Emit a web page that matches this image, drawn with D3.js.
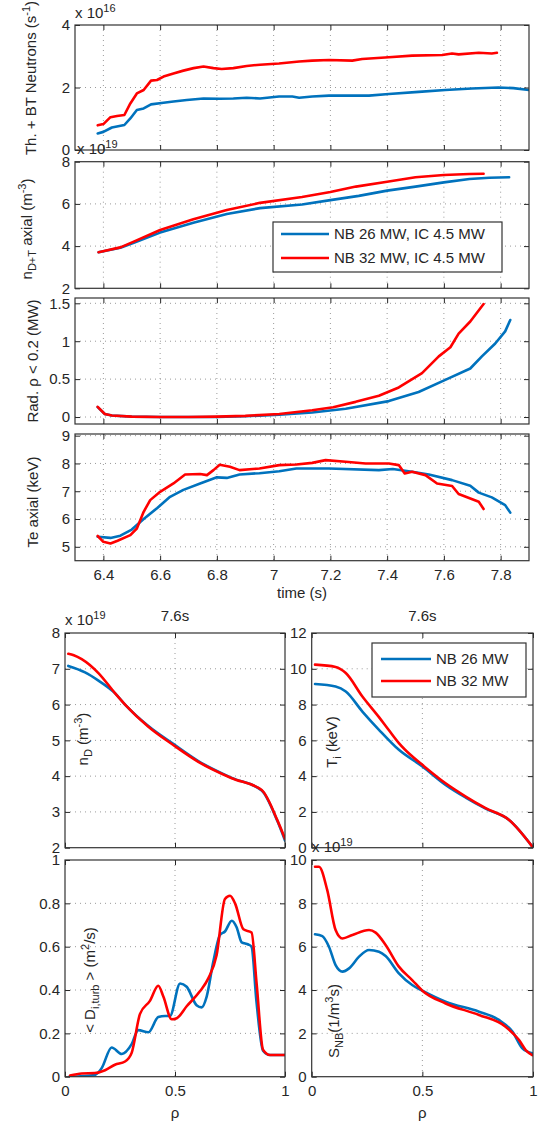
<!DOCTYPE html>
<html><head><meta charset="utf-8">
<script src="https://cdn.jsdelivr.net/npm/d3@7"></script>
<style>
body{margin:0;background:#fff}
svg{display:block}
text{font-family:"Liberation Sans",Arial,Helvetica,sans-serif;fill:#262626}
</style>
</head><body>
<svg id="c" width="558" height="1122"></svg>
<script>
// ---------- tick values ----------
const timeTicks = [6.4, 6.6, 6.8, 7.0, 7.2, 7.4, 7.6, 7.8];
const rhoTicks = [0, 0.5, 1];
const neutTicks = [0, 2, 4];
const densTicks = [2, 4, 6, 8];
const radTicks = [0, 0.5, 1, 1.5];
const teTicks = [5, 6, 7, 8, 9];
const ndTicks = [2, 3, 4, 5, 6, 7, 8];
const tiTicks = [0, 2, 4, 6, 8, 10, 12];
const dTicks = [0, 0.2, 0.4, 0.6, 0.8, 1];
const snbTicks = [0, 2, 4, 6, 8, 10];

const legendTop = ["NB 26 MW, IC 4.5 MW", "NB 32 MW, IC 4.5 MW"];
const legendBottom = ["NB 26 MW", "NB 32 MW"];
const profileTitle = "7.6s";

// ---------- panel 1: Th. + BT neutrons (x1e16 s^-1) ----------
const neutT26 = [6.38,6.40,6.43,6.474,6.495,6.518,6.542,6.568,6.612,6.647,6.694,6.753,6.81,6.858,6.905,6.952,7.019,7.066,7.09,7.136,7.195,7.336,7.406,7.511,7.605,7.699,7.792,7.845,7.9];
const neutV26 = [0.53,0.58,0.72,0.80,1.01,1.28,1.33,1.46,1.51,1.55,1.60,1.65,1.64,1.65,1.67,1.65,1.71,1.71,1.67,1.71,1.74,1.74,1.79,1.86,1.92,1.97,2.0,1.98,1.92];
const neutT32 = [6.38,6.40,6.425,6.448,6.474,6.495,6.518,6.542,6.568,6.589,6.612,6.647,6.682,6.718,6.753,6.788,6.817,6.858,6.905,6.952,7.019,7.09,7.136,7.195,7.277,7.312,7.406,7.488,7.594,7.629,7.652,7.723,7.769,7.787];
const neutV32 = [0.79,0.83,1.05,1.09,1.12,1.49,1.81,1.92,2.22,2.24,2.35,2.45,2.54,2.62,2.67,2.62,2.59,2.62,2.69,2.73,2.77,2.83,2.86,2.88,2.86,2.91,2.97,3.02,3.04,3.09,3.06,3.11,3.09,3.11];

// ---------- panel 2: n_D+T axial (x1e19 m^-3) ----------
const densT26 = [6.383,6.46,6.505,6.6,6.717,6.835,6.952,7.1,7.2,7.3,7.4,7.5,7.6,7.69,7.76,7.83];
const densV26 = [3.71,3.92,4.15,4.64,5.11,5.52,5.8,5.97,6.18,6.38,6.63,6.82,7.02,7.18,7.24,7.26];
const densT32 = [6.383,6.46,6.505,6.6,6.717,6.835,6.952,7.1,7.2,7.29,7.4,7.5,7.6,7.69,7.74];
const densV32 = [3.71,3.94,4.2,4.76,5.27,5.71,6.05,6.33,6.56,6.82,7.05,7.26,7.37,7.42,7.43];

// ---------- panel 3: Rad. rho < 0.2 (MW) ----------
const radT26 = [6.38,6.405,6.43,6.5,6.6,6.7,6.8,6.9,7.02,7.136,7.254,7.406,7.511,7.605,7.693,7.734,7.781,7.816,7.834];
const radV26 = [0.13,0.04,0.02,0.005,0,0,0,0.01,0.03,0.06,0.11,0.21,0.33,0.49,0.64,0.8,0.97,1.13,1.28];
const radT32 = [6.38,6.405,6.43,6.5,6.6,6.7,6.8,6.9,7.02,7.136,7.21,7.289,7.371,7.441,7.523,7.582,7.623,7.652,7.693,7.74];
const radV32 = [0.135,0.04,0.02,0.005,0,0,0.005,0.015,0.04,0.09,0.13,0.2,0.28,0.39,0.58,0.8,0.92,1.1,1.26,1.49];

// ---------- panel 4: Te axial (keV) ----------
const teT26 = [6.38,6.425,6.46,6.5,6.542,6.59,6.635,6.682,6.741,6.8,6.835,6.88,6.95,7.02,7.08,7.195,7.371,7.42,7.488,7.547,7.629,7.693,7.723,7.769,7.816,7.834];
const teV26 = [5.36,5.32,5.4,5.62,6.0,6.4,6.8,7.05,7.28,7.5,7.48,7.6,7.65,7.72,7.82,7.82,7.76,7.8,7.7,7.6,7.4,7.2,6.95,6.78,6.5,6.23];
const teT32 = [6.38,6.40,6.425,6.45,6.495,6.518,6.542,6.565,6.6,6.647,6.688,6.741,6.765,6.788,6.81,6.846,6.88,6.95,7.02,7.08,7.136,7.183,7.254,7.324,7.406,7.441,7.462,7.488,7.535,7.576,7.629,7.652,7.723,7.74];
const teV32 = [5.39,5.18,5.12,5.22,5.42,5.66,6.26,6.68,6.98,7.28,7.6,7.62,7.58,7.76,7.95,7.88,7.76,7.82,7.94,7.96,8.02,8.12,8.06,8.0,8.0,7.94,7.64,7.7,7.58,7.28,7.19,6.9,6.62,6.36];

// ---------- profiles at 7.6 s ----------
const ndRho26 = [0.015,0.091,0.152,0.227,0.273,0.379,0.492,0.606,0.758,0.894,0.965,1.0];
const ndV26 = [7.08,6.9,6.67,6.32,6.0,5.4,4.9,4.42,3.95,3.6,2.75,2.2];
const ndRho32 = [0.015,0.04,0.076,0.152,0.227,0.273,0.379,0.492,0.606,0.758,0.894,0.965,1.0];
const ndV32 = [7.42,7.38,7.27,6.88,6.32,6.0,5.38,4.87,4.4,3.94,3.61,2.77,2.25];

const tiRho26 = [0.015,0.108,0.154,0.229,0.304,0.394,0.5,0.605,0.696,0.786,0.892,0.997];
const tiV26 = [9.15,9.01,8.73,7.61,6.59,5.47,4.54,3.51,2.8,2.18,1.55,0.06];
const tiRho32 = [0.015,0.108,0.154,0.229,0.304,0.35,0.394,0.45,0.5,0.605,0.696,0.786,0.892,0.997];
const tiV32 = [10.23,10.1,9.76,8.45,7.3,6.55,5.85,5.15,4.63,3.6,2.86,2.21,1.55,0.06];

const dRho26 = [0.02,0.136,0.167,0.212,0.258,0.303,0.333,0.379,0.424,0.455,0.477,0.523,0.553,0.598,0.621,0.644,0.674,0.705,0.727,0.758,0.78,0.803,0.833,0.848,0.87,0.9,0.932,1.0];
const dV26 = [0.0,0.008,0.04,0.135,0.105,0.15,0.215,0.205,0.275,0.28,0.28,0.43,0.415,0.33,0.32,0.37,0.53,0.655,0.67,0.72,0.69,0.62,0.61,0.6,0.35,0.12,0.1,0.1];
const dRho32 = [0.023,0.076,0.136,0.182,0.227,0.273,0.303,0.341,0.386,0.424,0.447,0.485,0.508,0.553,0.614,0.652,0.689,0.727,0.75,0.773,0.811,0.848,0.871,0.9,0.932,1.0];
const dV32 = [0.005,0.015,0.017,0.03,0.055,0.07,0.11,0.29,0.35,0.42,0.37,0.265,0.27,0.325,0.395,0.455,0.56,0.82,0.835,0.8,0.68,0.665,0.43,0.125,0.1,0.1];

const snbRho26 = [0.015,0.048,0.078,0.108,0.139,0.169,0.214,0.259,0.304,0.334,0.394,0.454,0.5,0.605,0.756,0.846,0.907,0.952,0.997];
const snbV26 = [6.57,6.49,6.0,5.15,4.85,5.0,5.54,5.85,5.77,5.57,4.77,4.23,3.97,3.46,3.0,2.62,2.08,1.31,1.08];
const snbRho32 = [0.015,0.033,0.07,0.108,0.139,0.184,0.259,0.289,0.334,0.394,0.454,0.5,0.605,0.756,0.876,0.937,0.967,0.997];
const snbV32 = [9.69,9.69,8.62,6.77,6.38,6.54,6.77,6.65,6.08,5.08,4.46,3.97,3.38,2.85,2.31,1.69,1.23,1.0];

// ---------- drawing ----------
const BLUE = "#0072BD", RED = "#FF0000";
const FS = 15;
const svg = d3.select("#c");
const zip = (a, b) => a.map((v, i) => [v, b[i]]);
const fmt = d => String(+(+d).toFixed(2));
let clipId = 0;

function rich(parent, segs, attrs) {
  const t = parent.append("text").attr("font-size", FS);
  Object.entries(attrs || {}).forEach(([k, v]) => t.attr(k, v));
  let shift = 0;
  segs.forEach(s => {
    const target = s.sub ? 4 : s.sup ? -6 : 0;
    const ts = t.append("tspan").text(s.t).attr("dy", target - shift);
    if (s.sub || s.sup) ts.attr("font-size", 11);
    shift = target;
  });
  return t;
}

function panel(c) {
  const xs = d3.scaleLinear().domain(c.xDom).range([c.x0, c.x1]);
  const ys = d3.scaleLinear().domain(c.yDom).range([c.y1, c.y0]);
  const g = svg.append("g");
  // grid
  g.selectAll(null).data(c.xTicks.filter(v => xs(v) > c.x0 + 1 && xs(v) < c.x1 - 1)).join("line")
    .attr("x1", d => xs(d)).attr("x2", d => xs(d)).attr("y1", c.y0).attr("y2", c.y1)
    .attr("stroke", "#9a9a9a").attr("stroke-width", 1).attr("stroke-dasharray", "1,4");
  g.selectAll(null).data(c.yTicks.filter(v => ys(v) > c.y0 + 1 && ys(v) < c.y1 - 1)).join("line")
    .attr("y1", d => ys(d)).attr("y2", d => ys(d)).attr("x1", c.x0).attr("x2", c.x1)
    .attr("stroke", "#9a9a9a").attr("stroke-width", 1).attr("stroke-dasharray", "1,4");
  // clip
  const id = "clip" + (clipId++);
  g.append("clipPath").attr("id", id).append("rect")
    .attr("x", c.x0).attr("y", c.y0).attr("width", c.x1 - c.x0).attr("height", c.y1 - c.y0);
  const line = d3.line().x(d => xs(d[0])).y(d => ys(d[1])).curve(c.curve || d3.curveLinear);
  c.series.forEach(s => {
    g.append("path").attr("clip-path", `url(#${id})`).datum(zip(s.x, s.y))
      .attr("d", line).attr("fill", "none").attr("stroke", s.color)
      .attr("stroke-width", 2.6).attr("stroke-linejoin", "round").attr("stroke-linecap", "round");
  });
  // axes
  const styleAx = sel => {
    sel.select(".domain").remove();
    sel.selectAll(".tick line").attr("stroke", "#262626");
    sel.selectAll("text").attr("font-size", FS).attr("fill", "#262626")
      .attr("font-family", '"Liberation Sans",Arial,Helvetica,sans-serif');
  };
  g.append("g").attr("transform", `translate(${c.x0},0)`)
    .call(d3.axisLeft(ys).tickValues(c.yTicks).tickFormat(fmt).tickSizeInner(-5).tickSizeOuter(0).tickPadding(5))
    .call(styleAx);
  g.append("g").attr("transform", `translate(${c.x1},0)`)
    .call(d3.axisRight(ys).tickValues(c.yTicks).tickFormat("").tickSizeInner(-5).tickSizeOuter(0))
    .call(styleAx);
  g.append("g").attr("transform", `translate(0,${c.y0})`)
    .call(d3.axisTop(xs).tickValues(c.xTicks).tickFormat("").tickSizeInner(-5).tickSizeOuter(0))
    .call(styleAx);
  g.append("g").attr("transform", `translate(0,${c.y1})`)
    .call(d3.axisBottom(xs).tickValues(c.xTicks).tickFormat(c.xLabels ? fmt : "").tickSizeInner(-5).tickSizeOuter(0).tickPadding(9))
    .call(styleAx);
  g.append("rect").attr("x", c.x0).attr("y", c.y0).attr("width", c.x1 - c.x0).attr("height", c.y1 - c.y0)
    .attr("fill", "none").attr("stroke", "#333").attr("stroke-width", 1.2);
  // y label
  if (c.ylabel) {
    rich(svg, c.ylabel, {"text-anchor": "middle",
      transform: `translate(${c.ylx},${c.yly}) rotate(-90)`});
  }
  if (c.expo) {
    rich(svg, [{t: "x 10"}, {t: c.expo[2], sup: true}], {x: c.expo[0], y: c.expo[1]});
  }
  return {xs, ys};
}

const TX0 = 75, TX1 = 529, tDom = [6.3, 7.9];

panel({x0: TX0, x1: TX1, y0: 25, y1: 150, xDom: tDom, yDom: [0, 4], xTicks: timeTicks, yTicks: neutTicks,
  series: [{x: neutT26, y: neutV26, color: BLUE}, {x: neutT32, y: neutV32, color: RED}],
  ylabel: [{t: "Th. + BT Neutrons (s"}, {t: "-1", sup: true}, {t: ")"}], ylx: 36, yly: 78,
  expo: [75, 18, "16"]});

panel({x0: TX0, x1: TX1, y0: 161.7, y1: 288.3, xDom: tDom, yDom: [2, 8], xTicks: timeTicks, yTicks: densTicks,
  series: [{x: densT26, y: densV26, color: BLUE}, {x: densT32, y: densV32, color: RED}],
  ylabel: [{t: "n"}, {t: "D+T", sub: true}, {t: " axial (m"}, {t: "-3", sup: true}, {t: ")"}], ylx: 32, yly: 229,
  expo: [77, 154, "19"]});

panel({x0: TX0, x1: TX1, y0: 298, y1: 424, xDom: tDom, yDom: [-0.092, 1.57], xTicks: timeTicks, yTicks: radTicks,
  series: [{x: radT26, y: radV26, color: BLUE}, {x: radT32, y: radV32, color: RED}],
  ylabel: [{t: "Rad. ρ < 0.2 (MW)"}], ylx: 38, yly: 361});

panel({x0: TX0, x1: TX1, y0: 434, y1: 560.7, xDom: tDom, yDom: [4.5, 9.06], xTicks: timeTicks, yTicks: teTicks, xLabels: true,
  series: [{x: teT26, y: teV26, color: BLUE}, {x: teT32, y: teV32, color: RED}],
  ylabel: [{t: "Te axial (keV)"}], ylx: 38, yly: 502});

svg.append("text").attr("x", (TX0 + TX1) / 2).attr("y", 598).attr("text-anchor", "middle").attr("font-size", FS).text("time (s)");

// legend top
(function () {
  const g = svg.append("g");
  g.append("rect").attr("x", 273).attr("y", 222).attr("width", 229).attr("height", 50)
    .attr("fill", "#fff").attr("stroke", "#333").attr("stroke-width", 1.2);
  [BLUE, RED].forEach((col, i) => {
    const y = 234 + i * 24;
    g.append("line").attr("x1", 281).attr("x2", 329).attr("y1", y).attr("y2", y).attr("stroke", col).attr("stroke-width", 2.6);
    g.append("text").attr("x", 334).attr("y", y).attr("dy", "0.36em").attr("font-size", FS).text(legendTop[i]);
  });
})();

const LX0 = 65, LX1 = 285, RX0 = 311.7, RX1 = 533;
const PY0 = 633, PY1 = 847.7, QY0 = 860, QY1 = 1076.7;
const smooth = d3.curveMonotoneX;

panel({x0: LX0, x1: LX1, y0: PY0, y1: PY1, xDom: [0, 1], yDom: [2, 8], xTicks: rhoTicks, yTicks: ndTicks, curve: smooth,
  series: [{x: ndRho26, y: ndV26, color: BLUE}, {x: ndRho32, y: ndV32, color: RED}],
  ylabel: [{t: "n"}, {t: "D", sub: true}, {t: " (m"}, {t: "-3", sup: true}, {t: ")"}], ylx: 88, yly: 739,
  expo: [65, 625, "19"]});

panel({x0: RX0, x1: RX1, y0: PY0, y1: PY1, xDom: [0, 1], yDom: [0, 12], xTicks: rhoTicks, yTicks: tiTicks, curve: smooth,
  series: [{x: tiRho26, y: tiV26, color: BLUE}, {x: tiRho32, y: tiV32, color: RED}],
  ylabel: [{t: "T"}, {t: "i", sub: true}, {t: " (keV)"}], ylx: 337, yly: 742});

panel({x0: LX0, x1: LX1, y0: QY0, y1: QY1, xDom: [0, 1], yDom: [0, 1], xTicks: rhoTicks, yTicks: dTicks, xLabels: true, curve: smooth,
  series: [{x: dRho26, y: dV26, color: BLUE}, {x: dRho32, y: dV32, color: RED}],
  ylabel: [{t: "< D"}, {t: "i,turb", sub: true}, {t: " > (m"}, {t: "2", sup: true}, {t: "/s)"}], ylx: 95, yly: 980});

panel({x0: RX0, x1: RX1, y0: QY0, y1: QY1, xDom: [0, 1], yDom: [0, 10], xTicks: rhoTicks, yTicks: snbTicks, xLabels: true, curve: smooth,
  series: [{x: snbRho26, y: snbV26, color: BLUE}, {x: snbRho32, y: snbV32, color: RED}],
  ylabel: [{t: "S"}, {t: "NB", sub: true}, {t: "(1/m"}, {t: "3", sup: true}, {t: "s)"}], ylx: 339, yly: 1021,
  expo: [312, 852, "19"]});

// titles
[[ (LX0 + LX1) / 2 ], [ (RX0 + RX1) / 2 ]].forEach(([x]) => {
  svg.append("text").attr("x", x).attr("y", 621).attr("text-anchor", "middle").attr("font-size", FS).text(profileTitle);
});
// rho labels
[(LX0 + LX1) / 2, (RX0 + RX1) / 2].forEach(x => {
  svg.append("text").attr("x", x).attr("y", 1118).attr("text-anchor", "middle").attr("font-size", FS).text("ρ");
});

// legend bottom
(function () {
  const g = svg.append("g");
  g.append("rect").attr("x", 372).attr("y", 643).attr("width", 154).attr("height", 54)
    .attr("fill", "#fff").attr("stroke", "#333").attr("stroke-width", 1.2);
  [BLUE, RED].forEach((col, i) => {
    const y = 659 + i * 22;
    g.append("line").attr("x1", 381).attr("x2", 431).attr("y1", y).attr("y2", y).attr("stroke", col).attr("stroke-width", 2.6);
    g.append("text").attr("x", 436).attr("y", y).attr("dy", "0.36em").attr("font-size", FS).text(legendBottom[i]);
  });
})();
</script>
</body></html>
